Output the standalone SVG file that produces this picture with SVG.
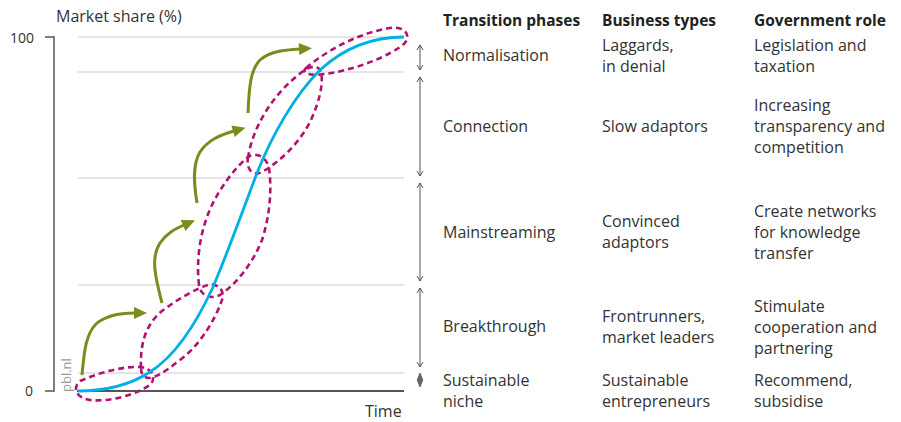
<svg xmlns="http://www.w3.org/2000/svg" width="901" height="422" viewBox="0 0 901 422">
<style>
text{font-family:"Open Sans","Noto Sans","Liberation Sans",sans-serif;fill:#333;font-size:16px}
.h{font-weight:bold;font-size:15.5px;fill:#222}
.num{font-size:14px}
.grid{stroke:#dcdcdc;stroke-width:1.5;fill:none}
.axis{stroke:#555;stroke-width:1.5;fill:none}
.loop{stroke:#b1126f;stroke-width:2.6;fill:none;stroke-dasharray:6 4}
.s{stroke:#00aee8;stroke-width:2.8;fill:none}
.g{stroke:#7b8c1e;stroke-width:3;fill:none}
.va{stroke:#555;stroke-width:1;fill:none;marker-start:url(#ch);marker-end:url(#ch)}
</style>
<defs>
<marker id="ga" markerUnits="userSpaceOnUse" markerWidth="14" markerHeight="14" refX="0" refY="0" viewBox="0 -7 14 14" orient="auto" overflow="visible">
<path d="M-1,-6 L12,0 L-1,6 z" fill="#7b8c1e"/>
</marker>
<marker id="ch" markerUnits="userSpaceOnUse" markerWidth="8" markerHeight="8" viewBox="-6 -4 8 8" refX="0" refY="0" orient="auto-start-reverse" overflow="visible">
<path d="M-5,-3 L0,0 L-5,3" fill="none" stroke="#555" stroke-width="1"/>
</marker>
</defs>

<g id="axes">
<line class="grid" x1="78" y1="37" x2="404" y2="37"/>
<line class="grid" x1="78" y1="72" x2="404" y2="72"/>
<line class="grid" x1="78" y1="178" x2="404" y2="178"/>
<line class="grid" x1="78" y1="285" x2="404" y2="285"/>
<line class="grid" x1="78" y1="373" x2="404" y2="373"/>
<path class="axis" d="M45,37 H54 V391 H45"/>
<line x1="77" y1="391" x2="404" y2="391" stroke="#555" stroke-width="2"/>
<text x="56" y="22">Market share (%)</text>
<text class="num" x="10" y="43">100</text>
<text class="num" x="25" y="396">0</text>
<text x="365" y="417">Time</text>
<text x="71" y="392" transform="rotate(-90 71 392)" style="font-size:13px;fill:#9a9a9a">pbl.nl</text>
</g>

<g id="loops">
<path class="loop" d="M80,381 C100,372 125,366 140,367 C152,368 157,378 150,385 C135,395 110,402 90,400 C76,398 72,388 80,381 Z"/>
<path class="loop" d="M141,368 C140,345 145,325 162,311 C178,299 195,289 208,285 C218,283 225,290 222,300 C215,320 200,345 180,360 C165,372 155,378 148,378 C142,377 141,372 141,368 Z"/>
<path class="loop" d="M199,285 C196,260 200,230 212,205 C222,185 235,168 248,157 C256,152 266,156 269,168 C272,190 270,215 262,240 C252,265 235,285 220,295 C210,300 200,295 199,285 Z"/>
<path class="loop" d="M248,158 C252,130 270,98 297,76 C306,68 317,62 321,72 C324,85 318,105 310,122 C298,145 278,163 262,172 C252,177 246,168 248,158 Z"/>
<path class="loop" d="M306,68 C330,48 360,33 390,28 C405,26 412,35 404,44 C390,56 355,70 325,74 C312,76 300,74 306,68 Z"/>
</g>

<g id="scurve">
<path class="s" d="M78,391 C105,391 130,385 150,372 C175,356 197,322 213,287 C228,252 243,210 257,173 C272,135 295,95 320,70 C345,47 375,37 404,37"/>
</g>

<g id="connectors">
<path class="g" marker-end="url(#ga)" d="M82,375 C84,355 85,335 96,324 C106,315 120,313 135,313"/>
<path class="g" marker-end="url(#ga)" d="M162,303 C156,280 150,258 160,243 C167,233 175,229 184,225"/>
<path class="g" marker-end="url(#ga)" d="M197,203 C194,185 192,165 200,152 C208,140 220,135 234,131"/>
<path class="g" marker-end="url(#ga)" d="M248,113 C249,90 250,70 260,60 C270,51 285,50 300,49"/>
<line class="va" x1="420" y1="45" x2="420" y2="70"/>
<line class="va" x1="420" y1="77" x2="420" y2="176"/>
<line class="va" x1="420" y1="183" x2="420" y2="281"/>
<line class="va" x1="420" y1="288" x2="420" y2="367"/>
<path d="M420,373 L422.8,380 L420,387 L417.2,380 Z" fill="#666" stroke="#555" stroke-width="0.8"/>
</g>

<g id="headers">
<text class="h" x="443" y="26">Transition phases</text>
<text class="h" x="602" y="26">Business types</text>
<text class="h" x="754" y="26">Government role</text>
</g>

<g id="row-normalisation">
<text x="443" y="61">Normalisation</text>
<text x="602" y="51">Laggards,</text>
<text x="602" y="72">in denial</text>
<text x="754" y="51">Legislation and</text>
<text x="754" y="72">taxation</text>
</g>
<g id="row-connection">
<text x="443" y="132">Connection</text>
<text x="602" y="132">Slow adaptors</text>
<text x="754" y="111">Increasing</text>
<text x="754" y="132">transparency and</text>
<text x="754" y="153">competition</text>
</g>
<g id="row-mainstreaming">
<text x="443" y="238">Mainstreaming</text>
<text x="602" y="227">Convinced</text>
<text x="602" y="248">adaptors</text>
<text x="754" y="217">Create networks</text>
<text x="754" y="238">for knowledge</text>
<text x="754" y="259">transfer</text>
</g>
<g id="row-breakthrough">
<text x="443" y="332">Breakthrough</text>
<text x="602" y="322">Frontrunners,</text>
<text x="602" y="343">market leaders</text>
<text x="754" y="312">Stimulate</text>
<text x="754" y="333">cooperation and</text>
<text x="754" y="354">partnering</text>
</g>
<g id="row-niche">
<text x="443" y="386">Sustainable</text>
<text x="443" y="407">niche</text>
<text x="602" y="386">Sustainable</text>
<text x="602" y="407">entrepreneurs</text>
<text x="754" y="386">Recommend,</text>
<text x="754" y="407">subsidise</text>
</g>
</svg>
